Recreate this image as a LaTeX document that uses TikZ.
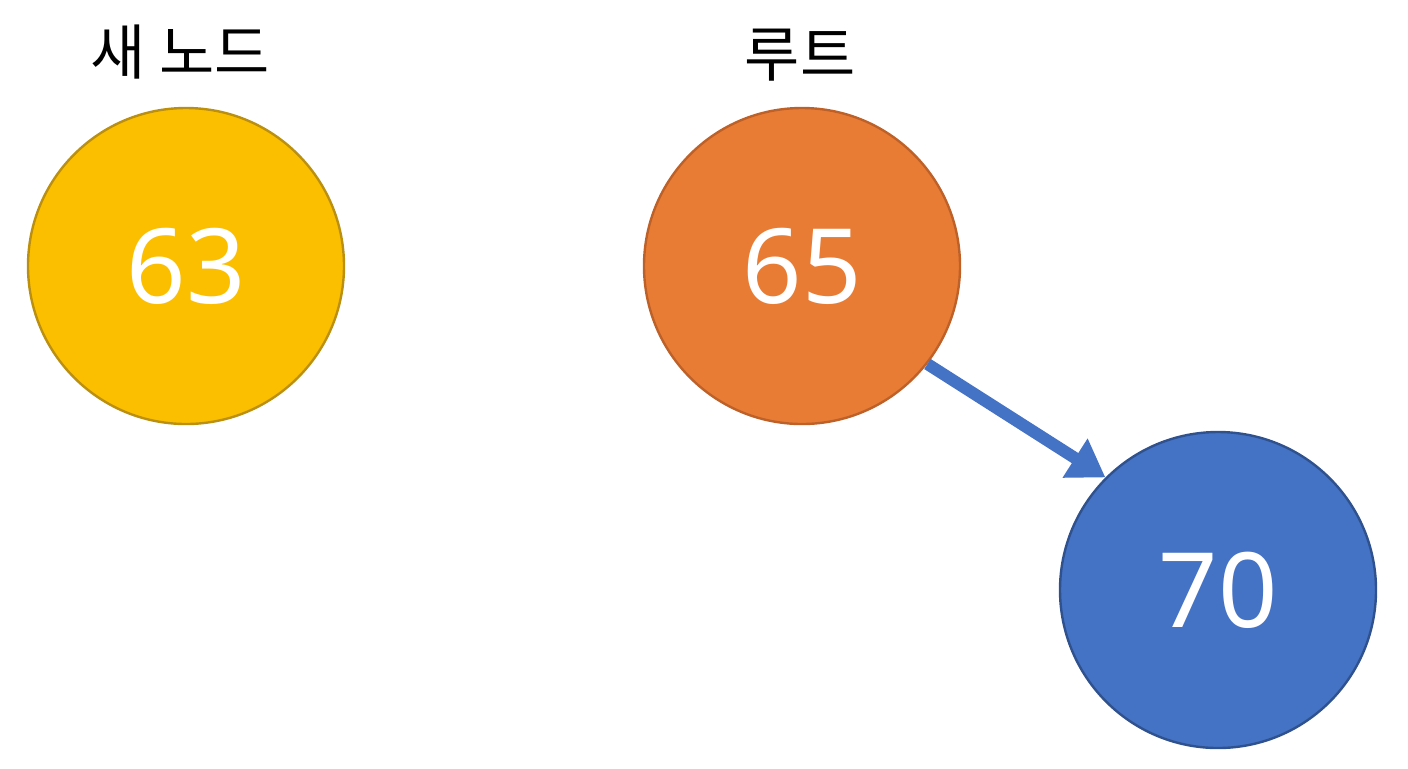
\documentclass[tikz,border=0pt]{standalone}
\usepackage{fontspec}
\setmainfont{Noto Sans}
\newfontfamily\cjk{Noto Sans CJK KR}
\usetikzlibrary{arrows.meta}
\definecolor{nodeyellow}{HTML}{FBBF00}
\definecolor{edgeyellow}{HTML}{BB9010}
\definecolor{nodeorange}{HTML}{E97C35}
\definecolor{edgeorange}{HTML}{BE6128}
\definecolor{nodeblue}{HTML}{4472C4}
\definecolor{edgeblue}{HTML}{2F528F}
\begin{document}
\begin{tikzpicture}[x=0.5pt,y=-0.5pt,yellow/.style={circle,fill=nodeyellow,draw=edgeyellow,line width=1.2pt,minimum size=158pt,inner sep=0pt,text=white,font=\fontsize{52}{60}\selectfont},orange/.style={circle,fill=nodeorange,draw=edgeorange,line width=1.2pt,minimum size=158pt,inner sep=0pt,text=white,font=\fontsize{52}{60}\selectfont},blue/.style={circle,fill=nodeblue,draw=edgeblue,line width=1.2pt,minimum size=158pt,inner sep=0pt,text=white,font=\fontsize{52}{60}\selectfont},title/.style={font=\cjk\fontsize{30}{36}\selectfont}]
		\useasboundingbox (0,0) rectangle (1408,768);
		\node[yellow]							(63)		at (186,266)	{63};
		\node[orange]							(65)		at (802,266)	{65};
		\node[blue]								(70)		at (1218,590)	{70};
		\node[title]							(new)		at (180,52)		{새 노드};
		\node[title]							(root)		at (800,55)		{루트};

		\draw[nodeblue,line width=6pt,-{Triangle[length=18pt,width=22pt]}] (65.-38) -- (70.135);
	\end{tikzpicture}
\end{document}
